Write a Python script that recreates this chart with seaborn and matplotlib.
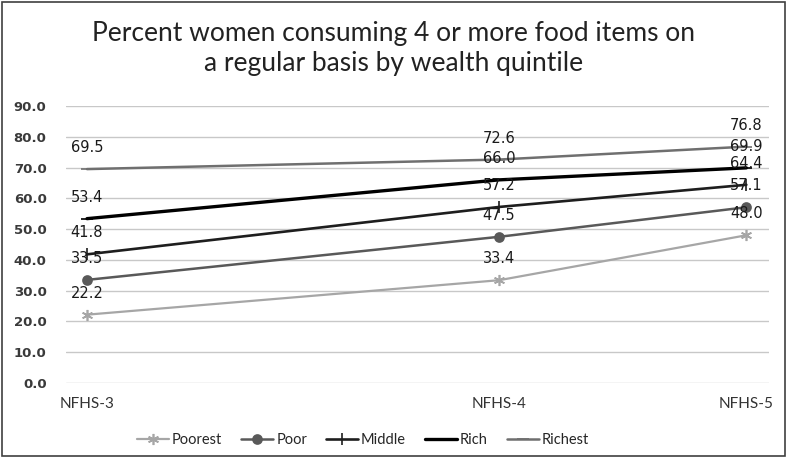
import matplotlib
matplotlib.use("Agg")
import matplotlib.pyplot as plt
import seaborn as sns
import pandas as pd
from matplotlib.patches import Rectangle

# Survey rounds and their positions along the time axis
surveys = ["NFHS-3", "NFHS-4", "NFHS-5"]
survey_pos = [0.0, 1.0, 1.6]

quintiles = ["Poorest", "Poor", "Middle", "Rich", "Richest"]
poorest = [22.2, 33.4, 48.0]
poor = [33.5, 47.5, 57.1]
middle = [41.8, 57.2, 64.4]
rich = [53.4, 66.0, 69.9]
richest = [69.5, 72.6, 76.8]

y_ticks = [0, 10, 20, 30, 40, 50, 60, 70, 80, 90]

values = dict(zip(quintiles, [poorest, poor, middle, rich, richest]))
rows = []
for q in quintiles:
    for s, p, v in zip(surveys, survey_pos, values[q]):
        rows.append({"Quintile": q, "Survey": s, "pos": p, "value": v})
df = pd.DataFrame(rows)

sns.set_theme(style="white")
plt.rcParams["font.family"] = ["Lato", "DejaVu Sans"]

palette = {"Poorest": "#a6a6a6", "Poor": "#595959", "Middle": "#1e1e1e",
           "Rich": "#000000", "Richest": "#6f6f6f"}
markers = {"Poorest": (6, 2, 0), "Poor": "o", "Middle": "|",
           "Rich": "_", "Richest": "_"}
widths = {"Poorest": 1.6, "Poor": 1.8, "Middle": 1.9, "Rich": 2.4, "Richest": 1.8}

fig = plt.figure(figsize=(7.87, 4.58), dpi=100)
ax = fig.add_axes([66 / 787, 1 - 383 / 458, (769 - 66) / 787, (383 - 106) / 458])

for q in quintiles:
    sub = df[df["Quintile"] == q]
    sns.lineplot(data=sub, x="pos", y="value", ax=ax, color=palette[q],
                 marker=markers[q], markersize=8 if q != "Poor" else 6.5,
                 markeredgewidth=1.2, markeredgecolor=palette[q],
                 linewidth=widths[q], label=q, legend=False)
    for p, v in zip(sub["pos"], sub["value"]):
        ax.annotate(f"{v:.1f}", (p, v), xytext=(0, 15.5), textcoords="offset points",
                    ha="center", va="center", fontsize=10.5, color="#1a1a1a",
                    family="DejaVu Sans")

ax.set_ylim(0, 90)
ax.set_xlim(-0.051, 1.655)
ax.set_yticks(y_ticks)
ax.set_yticklabels([f"{t:.1f}" for t in y_ticks], fontsize=9.5, color="#3a3a3a",
                   fontweight="bold", family="DejaVu Sans")
ax.set_xticks(survey_pos)
ax.set_xticklabels(surveys, fontsize=11, color="#333333")
ax.tick_params(axis="both", length=0)
ax.tick_params(axis="y", pad=14)
ax.tick_params(axis="x", pad=10)
ax.grid(axis="y", color="#c8c8c8", linewidth=1)
ax.set_axisbelow(True)
for sp in ax.spines.values():
    sp.set_visible(False)
ax.set_xlabel("")
ax.set_ylabel("")

fig.text(0.5, 1 - 49 / 458, "Percent women consuming 4 or more food items on\na regular basis by wealth quintile",
         ha="center", va="center", fontsize=19, color="#222222", linespacing=1.25)

handles, labels = ax.get_legend_handles_labels()
fig.legend(handles, labels, loc="center", bbox_to_anchor=(363 / 787, 1 - 440 / 458),
           ncol=5, frameon=False, fontsize=10.5, handlelength=2.2, columnspacing=1.3,
           handletextpad=0.2)

fig.patches.append(Rectangle((2 / 787, 2 / 458), 783 / 787, 454 / 458, transform=fig.transFigure,
                             fill=False, edgecolor="#404040", linewidth=1.2))

fig.savefig("out.png", dpi=100)
